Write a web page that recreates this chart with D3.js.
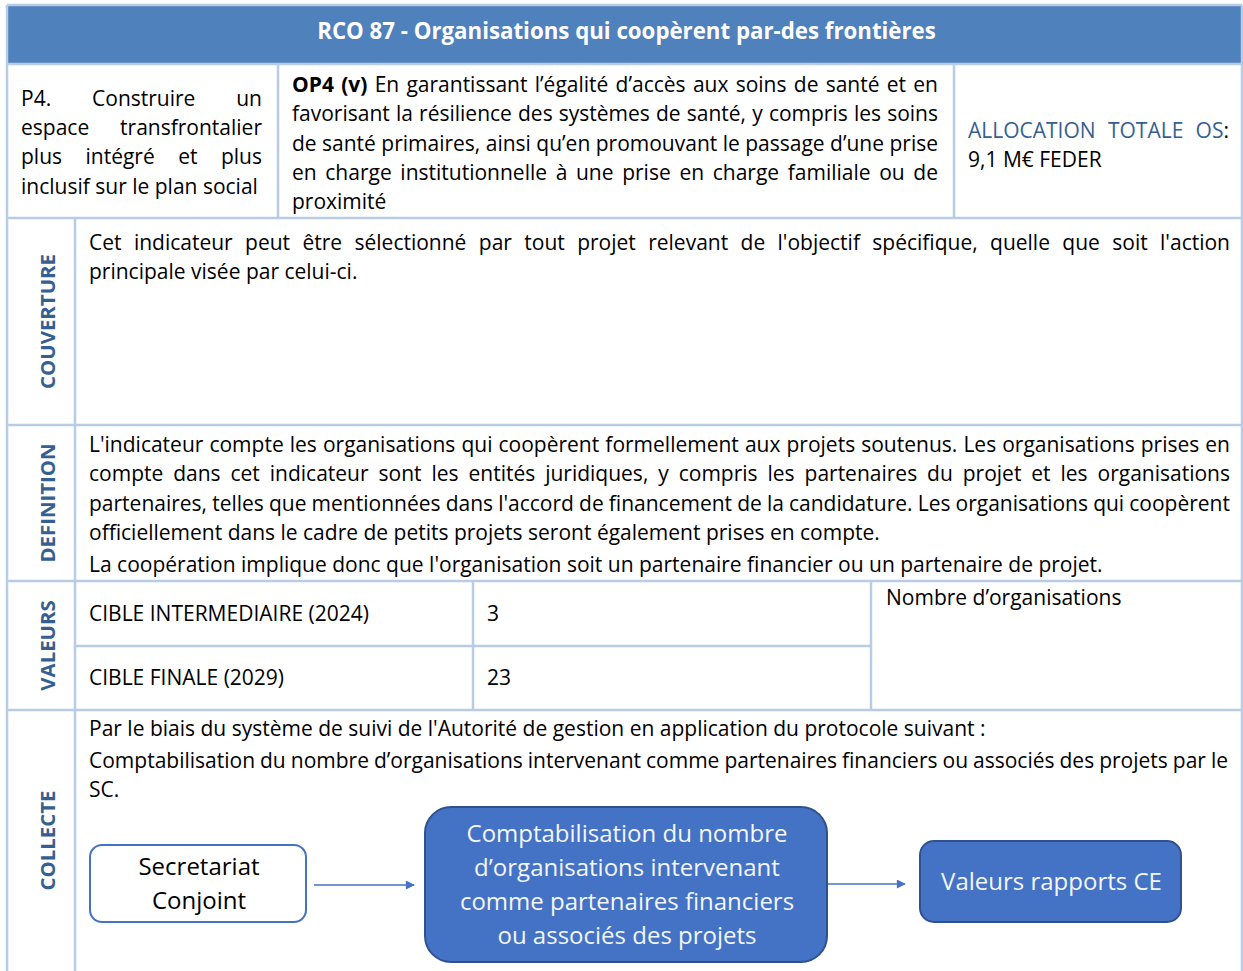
<!DOCTYPE html>
<html><head><meta charset="utf-8">
<script src="https://cdn.jsdelivr.net/npm/d3@7"></script>
<style>html,body{margin:0;padding:0;background:#fff;} svg{display:block;}</style>
</head><body>
<script>
// ---------- DATA ----------
const headerTitle = "RCO 87 - Organisations qui coopèrent par-des frontières";
const priorityLines = ["P4. Construire un", "espace transfrontalier", "plus intégré et plus", "inclusif sur le plan social"];
const objectiveLead = "OP4 (v)";
const objectiveLines = [
  "En garantissant l’égalité d’accès aux soins de santé et en",
  "favorisant la résilience des systèmes de santé, y compris les soins",
  "de santé primaires, ainsi qu’en promouvant le passage d’une prise",
  "en charge institutionnelle à une prise en charge familiale ou de",
  "proximité"];
const allocationLabel = ["ALLOCATION", "TOTALE", "OS"];
const allocationValue = "9,1 M€ FEDER";
const sectionLabels = ["COUVERTURE", "DEFINITION", "VALEURS", "COLLECTE"];
const couvertureLines = [
  "Cet indicateur peut être sélectionné par tout projet relevant de l'objectif spécifique, quelle que soit l'action",
  "principale visée par celui-ci."];
const definitionLines = [
  "L'indicateur compte les organisations qui coopèrent formellement aux projets soutenus. Les organisations prises en",
  "compte dans cet indicateur sont les entités juridiques, y compris les partenaires du projet et les organisations",
  "partenaires, telles que mentionnées dans l'accord de financement de la candidature. Les organisations qui coopèrent",
  "officiellement dans le cadre de petits projets seront également prises en compte."];
const definitionNote = "La coopération implique donc que l'organisation soit un partenaire financier ou un partenaire de projet.";
const targetLabels = ["CIBLE INTERMEDIAIRE (2024)", "CIBLE FINALE (2029)"];
const targetValues = [3, 23];
const unitLabel = "Nombre d’organisations";
const collecteLines = [
  "Par le biais du système de suivi de l'Autorité de gestion en application du protocole suivant :",
  "Comptabilisation du nombre d’organisations intervenant comme partenaires financiers ou associés des projets par le",
  "SC."];
const flowSteps = [
  ["Secretariat", "Conjoint"],
  ["Comptabilisation du nombre", "d’organisations intervenant", "comme partenaires financiers", "ou associés des projets"],
  ["Valeurs rapports CE"]];

// ---------- STYLE ----------
const W = 1243, H = 971;
const FONT = "'Open Sans', 'Noto Sans', sans-serif";
const BORDER = "#B8CCE4", HEAD = "#4F81BD", LABEL = "#365F91", BOXF = "#4472C4", BOXS = "#2F528F";

const svg = d3.select("body").append("svg").attr("width", W).attr("height", H)
  .style("font-family", FONT);

const probe = svg.append("text").attr("x", -1000).attr("y", -1000);
function measure(t, size, weight) {
  probe.attr("font-size", size).attr("font-weight", weight || 400).text(t);
  return probe.node().getComputedTextLength();
}
// calibrate sizes against widths
const bodySize = 20 * 897 / measure(collecteLines[0], 20, 400);
const headSize = 20 * 619 / measure(headerTitle, 20, 700);
const labelSize = 20 * 135 / measure("COUVERTURE", 20, 700);
const boxSize = 20 * 221 / measure("Valeurs rapports CE", 20, 400);

// words: array of words; each word = array of pieces {t, bold, fill}
function drawLine(g, words, x, y, width, justify, size, fill, anchor) {
  const spaceW = measure("a a", size, 400) - measure("aa", size, 400);
  const ww = words.map(w => d3.sum(w, p => measure(p.t, size, p.bold ? 700 : 400)));
  const sumW = d3.sum(ww);
  let gap = spaceW;
  if (justify && words.length > 1) gap = (width - sumW) / (words.length - 1);
  const total = sumW + gap * (words.length - 1);
  let cx = x;
  if (anchor === "middle") cx = x - total / 2;
  const t = g.append("text").attr("y", y).attr("font-size", size).attr("fill", fill || "#000");
  words.forEach((w, i) => {
    const ts = t.append("tspan").attr("x", cx);
    w.forEach(p => {
      ts.append("tspan").text(p.t)
        .attr("font-weight", p.bold ? 700 : 400)
        .attr("fill", p.fill || fill || "#000");
    });
    cx += ww[i] + gap;
  });
}
const plain = s => s.split(/\s+/).filter(d => d).map(w => [{ t: w }]);

function paragraph(g, lines, x, y0, lh, width, size, justifyAll) {
  lines.forEach((l, i) => {
    const words = Array.isArray(l) ? l : plain(l);
    drawLine(g, words, x, y0 + i * lh, width, justifyAll || i < lines.length - 1, size);
  });
}

const g = svg.append("g");

// ---------- TABLE GRID ----------
const L = 7, R = 1242, T = 5;
const rowY = d3.scaleOrdinal().domain(["head", "top", "couv", "def", "val", "col", "end"])
  .range([T, 64, 218, 425, 581, 710, H + 2]);
g.append("rect").attr("x", L).attr("y", rowY("head")).attr("width", R - L).attr("height", rowY("top") - rowY("head"))
  .attr("fill", HEAD);
const lines = [
  [L, T, R, T], [L, rowY("top"), R, rowY("top")], [L, rowY("couv"), R, rowY("couv")],
  [L, rowY("def"), R, rowY("def")], [L, rowY("val"), R, rowY("val")], [L, rowY("col"), R, rowY("col")],
  [L, T, L, H + 2], [R, T, R, H + 2],
  [278, rowY("top"), 278, rowY("couv")], [954, rowY("top"), 954, rowY("couv")],
  [75, rowY("couv"), 75, H + 2],
  [473, rowY("val"), 473, rowY("col")], [871, rowY("val"), 871, rowY("col")],
  [75, 646, 871, 646]];
g.selectAll("line.grid").data(lines).join("line").attr("class", "grid")
  .attr("x1", d => d[0]).attr("y1", d => d[1]).attr("x2", d => d[2]).attr("y2", d => d[3])
  .attr("stroke", BORDER).attr("stroke-width", 2.5);

// header
g.append("text").attr("x", (L + R) / 2 + 2).attr("y", 39).attr("text-anchor", "middle")
  .attr("font-size", headSize).attr("font-weight", 700).attr("fill", "#fff").text(headerTitle);

// row 1
paragraph(g, priorityLines, 21, 105.5, 29.4, 241, bodySize);
const objWords = objectiveLines.map(plain);
objWords[0] = plain(objectiveLead).map(w => [{ t: w[0].t, bold: true }]).concat(objWords[0]);
paragraph(g, objWords, 292, 92, 29.3, 646, bodySize);
const allocWords = allocationLabel.map((w, i) => i === allocationLabel.length - 1
  ? [{ t: w, fill: LABEL }, { t: ":", fill: "#000" }] : [{ t: w, fill: LABEL }]);
drawLine(g, allocWords, 968, 137.5, 261, true, bodySize);
drawLine(g, plain(allocationValue), 968, 167, 0, false, bodySize);

// section labels (rotated)
const secY = [[218, 425], [425, 581], [581, 710], [710, 971]];
g.selectAll("text.sec").data(sectionLabels).join("text").attr("class", "sec")
  .attr("transform", (d, i) => `translate(${55},${(secY[i][0] + secY[i][1]) / 2}) rotate(-90)`)
  .attr("text-anchor", "middle").attr("font-size", labelSize).attr("font-weight", 700)
  .attr("fill", LABEL).text(d => d);

// couverture
paragraph(g, couvertureLines, 89, 250, 29, 1141, bodySize);
// definition
paragraph(g, definitionLines, 89, 452, 29.3, 1141, bodySize);
drawLine(g, plain(definitionNote), 89, 572, 0, false, bodySize);

// valeurs
const valY = d3.scaleBand().domain(targetLabels).range([581, 710]);
targetLabels.forEach((lab, i) => {
  const yy = valY(lab) + valY.bandwidth() / 2 + 7.5;
  drawLine(g, plain(lab), 89, yy, 0, false, bodySize);
  drawLine(g, plain(String(targetValues[i])), 487, yy, 0, false, bodySize);
});
drawLine(g, plain(unitLabel), 886, 605, 0, false, bodySize);

// collecte
drawLine(g, plain(collecteLines[0]), 89, 736, 0, false, bodySize);
drawLine(g, plain(collecteLines[1]), 89, 768, 1139, true, bodySize);
drawLine(g, plain(collecteLines[2]), 89, 797, 0, false, bodySize);

// ---------- FLOW ----------
const boxes = [
  { x: 90, y: 845, w: 216, h: 77, r: 12, fill: "#fff", stroke: BOXF, tc: "#000", lh: 34 },
  { x: 425, y: 807, w: 402, h: 155, r: 26, fill: BOXF, stroke: BOXS, tc: "#F3F6FB", lh: 34 },
  { x: 920, y: 841, w: 261, h: 81, r: 14, fill: BOXF, stroke: BOXS, tc: "#F3F6FB", lh: 34 }];
const defs = svg.append("defs");
defs.append("marker").attr("id", "arr").attr("viewBox", "0 0 10 10").attr("refX", 9).attr("refY", 5)
  .attr("markerWidth", 10).attr("markerHeight", 9).attr("markerUnits", "userSpaceOnUse").attr("orient", "auto")
  .append("path").attr("d", "M0,0 L10,5 L0,10 Z").attr("fill", BOXF);
g.selectAll("rect.box").data(boxes).join("rect").attr("class", "box")
  .attr("x", d => d.x).attr("y", d => d.y).attr("width", d => d.w).attr("height", d => d.h)
  .attr("rx", d => d.r).attr("fill", d => d.fill).attr("stroke", d => d.stroke).attr("stroke-width", 2);
boxes.forEach((b, i) => {
  const n = flowSteps[i].length;
  const cy = b.y + b.h / 2;
  flowSteps[i].forEach((l, j) => {
    const yy = cy + (j - (n - 1) / 2) * b.lh + 8.5;
    drawLine(g, plain(l), b.x + b.w / 2 + 1, yy, 0, false, boxSize, b.tc, "middle");
  });
});
const arrows = [[314, 885, 414, 885], [828, 884, 905, 884]];
g.selectAll("line.arrow").data(arrows).join("line").attr("class", "arrow")
  .attr("x1", d => d[0]).attr("y1", d => d[1]).attr("x2", d => d[2]).attr("y2", d => d[3])
  .attr("stroke", BOXF).attr("stroke-width", 1.6).attr("marker-end", "url(#arr)");

probe.remove();
</script>
</body></html>
